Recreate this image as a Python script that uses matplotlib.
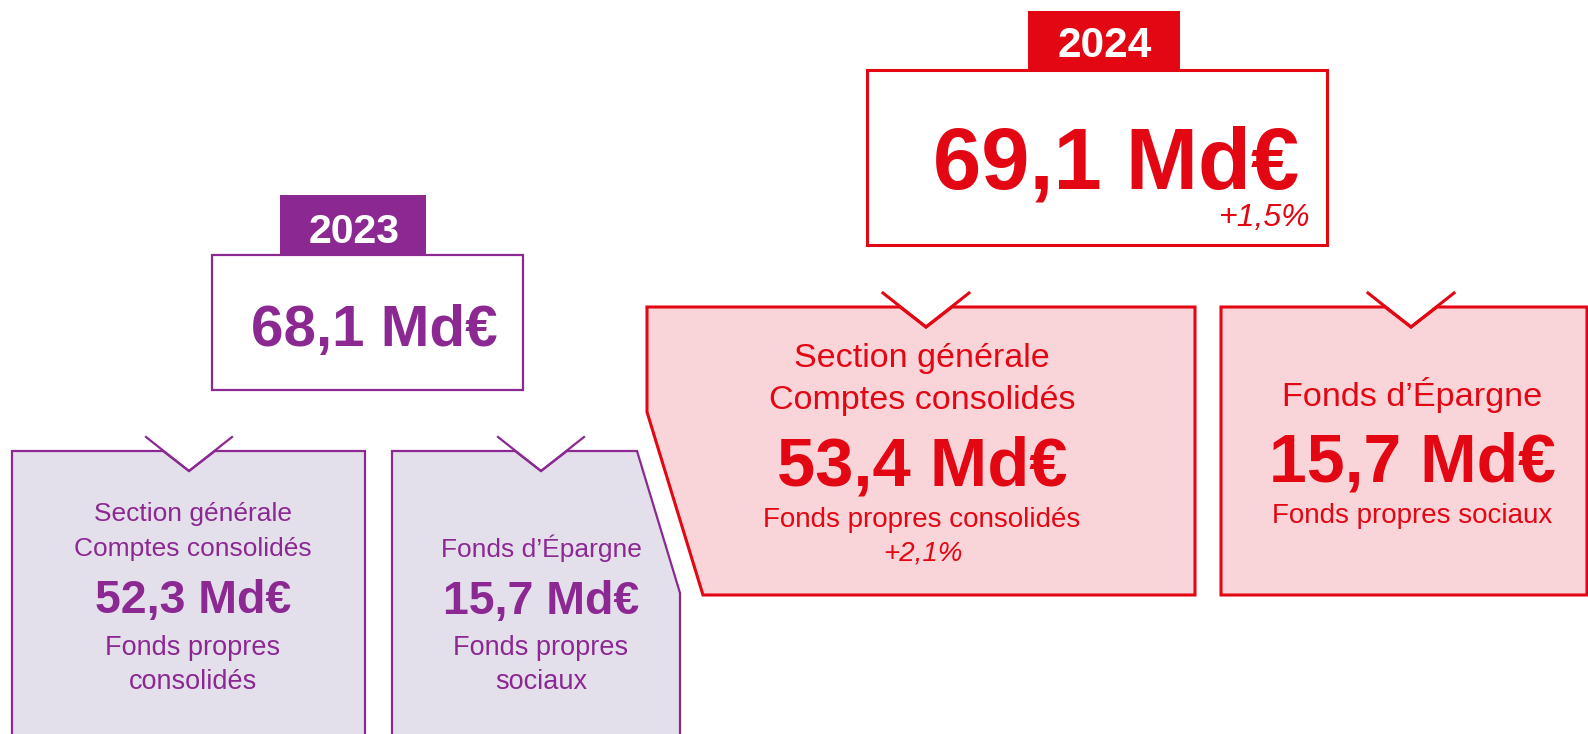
import matplotlib.pyplot as plt
from matplotlib.patches import Polygon, Rectangle

plt.rcParams['font.family'] = ['Liberation Sans', 'DejaVu Sans']

years = ['2023', '2024']
totals = ['68,1 Md€', '69,1 Md€']
total_growth = [None, '+1,5%']
section_values = ['52,3 Md€', '53,4 Md€']
section_growth = [None, '+2,1%']
fonds_values = ['15,7 Md€', '15,7 Md€']

purple = '#8B2892'
purple_fill = '#E4E0EB'
red = '#E30613'
red_fill = '#F9D5DA'

fig = plt.figure(figsize=(15.88, 7.34), dpi=100)
ax = fig.add_axes([0, 0, 1, 1])
ax.set_xlim(0, 1588)
ax.set_ylim(734, 0)
ax.axis('off')


def notched_box(pts_after, x0, top, vx, color, fill, lw):
    # box whose top edge has a V notch, pts_after continues the outline clockwise
    half = 43
    depth = 20
    verts = [(x0, top), (vx - half * (top - (top - 14)) / 33 - 0, top)]
    # crossing points of the V arms with the top edge
    verts = [(x0, top), (vx - 26, top), (vx, top + depth), (vx + 26, top)] + pts_after
    ax.add_patch(Polygon(verts, closed=True, fc=fill, ec=color, lw=lw, joinstyle='miter'))
    ax.plot([vx - half, vx, vx + half], [top - 14, top + depth, top - 14],
            color=color, lw=lw, solid_joinstyle='miter')


# ---- 2023
lw_p = 1.6
ax.add_patch(Rectangle((212, 255), 311, 135, fc='white', ec=purple, lw=lw_p))
ax.add_patch(Rectangle((280, 195), 146, 60, fc=purple, ec='none'))
ax.text(354, 243, years[0], color='white', fontsize=29.5, fontweight='bold', ha='center', va='baseline')
ax.text(374, 346, totals[0], color=purple, fontsize=42, fontweight='bold', ha='center', va='baseline')

notched_box([(365, 451), (365, 740), (12, 740)], 12, 451, 189, purple, purple_fill, lw_p)
notched_box([(637, 451), (680, 593), (680, 740), (392, 740)], 392, 451, 541, purple, purple_fill, lw_p)

ax.text(193, 521, 'Section générale', color=purple, fontsize=19, ha='center', va='baseline')
ax.text(193, 556, 'Comptes consolidés', color=purple, fontsize=19, ha='center', va='baseline')
ax.text(193, 613, section_values[0], color=purple, fontsize=33.5, fontweight='bold', ha='center', va='baseline')
ax.text(193, 655, 'Fonds propres', color=purple, fontsize=19.5, ha='center', va='baseline')
ax.text(193, 689, 'consolidés', color=purple, fontsize=19.5, ha='center', va='baseline')

ax.text(541, 557, 'Fonds d’Épargne', color=purple, fontsize=19, ha='center', va='baseline')
ax.text(541, 614, fonds_values[0], color=purple, fontsize=33.5, fontweight='bold', ha='center', va='baseline')
ax.text(541, 655, 'Fonds propres', color=purple, fontsize=19.5, ha='center', va='baseline')
ax.text(541, 689, 'sociaux', color=purple, fontsize=19.5, ha='center', va='baseline')

# ---- 2024
lw_r = 2.2
ax.add_patch(Rectangle((867, 70), 460, 175, fc='white', ec=red, lw=lw_r))
ax.add_patch(Rectangle((1028, 11), 152, 59, fc=red, ec='none'))
ax.text(1105, 57, years[1], color='white', fontsize=30.5, fontweight='bold', ha='center', va='baseline')
ax.text(1116, 188, totals[1], color=red, fontsize=62.5, fontweight='bold', ha='center', va='baseline')
ax.text(1311, 226, total_growth[1], color=red, fontsize=23, style='italic', ha='right', va='baseline')

notched_box([(1195, 307), (1195, 595), (703, 595), (647, 412)], 647, 307, 926, red, red_fill, lw_r)
notched_box([(1587, 307), (1587, 595), (1221, 595)], 1221, 307, 1411, red, red_fill, lw_r)

ax.text(922, 367, 'Section générale', color=red, fontsize=24.5, ha='center', va='baseline')
ax.text(922, 409, 'Comptes consolidés', color=red, fontsize=24.5, ha='center', va='baseline')
ax.text(922, 485, section_values[1], color=red, fontsize=49.5, fontweight='bold', ha='center', va='baseline')
ax.text(922, 527, 'Fonds propres consolidés', color=red, fontsize=20, ha='center', va='baseline')
ax.text(923, 561, section_growth[1], color=red, fontsize=20, style='italic', ha='center', va='baseline')

ax.text(1412, 406, 'Fonds d’Épargne', color=red, fontsize=24.7, ha='center', va='baseline')
ax.text(1412, 482, fonds_values[1], color=red, fontsize=49, fontweight='bold', ha='center', va='baseline')
ax.text(1412, 523, 'Fonds propres sociaux', color=red, fontsize=20, ha='center', va='baseline')

fig.savefig('out.png', dpi=100)
